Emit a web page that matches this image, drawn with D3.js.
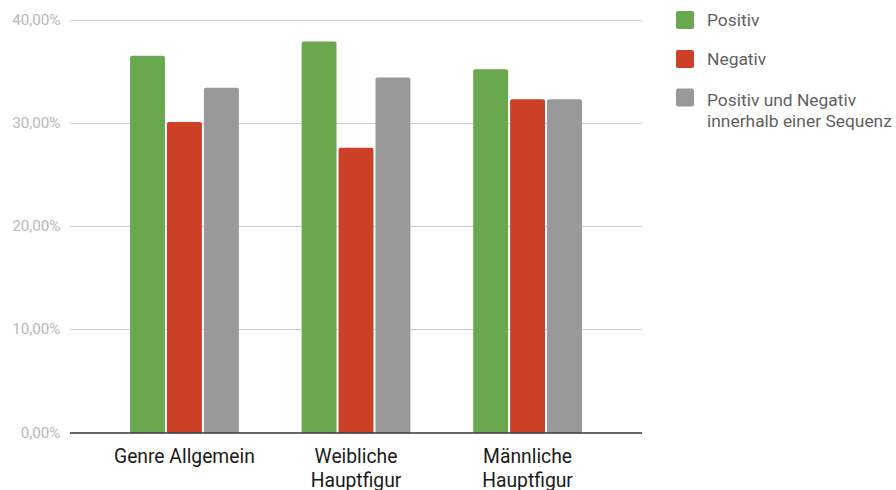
<!DOCTYPE html>
<html><head><meta charset="utf-8">
<script src="https://cdn.jsdelivr.net/npm/d3@7"></script>
<style>body{margin:0;background:#fff}svg{display:block;font-family:Roboto,"Noto Sans",sans-serif}</style>
</head><body><svg id="c" width="896" height="490"></svg>
<script>
const categories = [["Genre Allgemein"], ["Weibliche", "Hauptfigur"], ["Männliche", "Hauptfigur"]];
const seriesNames = [["Positiv"], ["Negativ"], ["Positiv und Negativ", "innerhalb einer Sequenz"]];
const positiv = [36.5, 37.9, 35.2];
const negativ = [30.1, 27.6, 32.3];
const gemischt = [33.4, 34.4, 32.3];
const yTicks = [0, 10, 20, 30, 40];
const colors = ["#6aa84f", "#cc4125", "#999999"];

const svg = d3.select("#c");
const values = [positiv, negativ, gemischt];
const catKeys = categories.map(c => c.join(" "));
const x0 = d3.scaleBand().domain(catKeys).range([70, 642]).paddingInner(0.366).paddingOuter(0.35);
const x1 = d3.scaleBand().domain([0,1,2]).range([0, x0.bandwidth()]).paddingInner(0.055);
const y = d3.scaleLinear().domain([0, 40]).range([432.7, 19.7]);

// gridlines
svg.append("g").selectAll("line").data(yTicks.filter(t => t > 0)).join("line")
  .attr("x1", 70).attr("x2", 642)
  .attr("y1", d => Math.round(y(d)) + 0.5).attr("y2", d => Math.round(y(d)) + 0.5)
  .attr("stroke", "#cccccc").attr("stroke-width", 1);

// y labels
svg.append("g").selectAll("text").data(yTicks).join("text")
  .attr("x", 60.5).attr("y", d => y(d) + 5)
  .attr("text-anchor", "end").attr("font-size", 15.2).attr("fill", "#b7b7b7")
  .text(d => d3.format(".2f")(d).replace(".", ",") + "%");

// bars
function topRounded(x, yTop, w, yBot, r) {
  r = Math.min(r, w/2, yBot - yTop);
  return `M${x},${yBot}V${yTop + r}Q${x},${yTop} ${x + r},${yTop}H${x + w - r}Q${x + w},${yTop} ${x + w},${yTop + r}V${yBot}Z`;
}
const bars = [];
catKeys.forEach((k, ci) => values.forEach((arr, si) => bars.push({k, si, v: arr[ci]})));
svg.append("g").selectAll("path").data(bars).join("path")
  .attr("d", d => topRounded(x0(d.k) + x1(d.si), y(d.v), x1.bandwidth(), y(0), 2))
  .attr("fill", d => colors[d.si]);

// axis line
svg.append("line").attr("x1", 70).attr("x2", 642).attr("y1", 433).attr("y2", 433)
  .attr("stroke", "#333").attr("stroke-width", 1.3);

// x labels
const xl = svg.append("g").selectAll("text").data(categories).join("text")
  .attr("text-anchor", "middle").attr("font-size", 19.3).attr("fill", "#1a1a1a")
  .attr("x", (d, i) => x0(catKeys[i]) + x0.bandwidth()/2);
xl.selectAll("tspan").data(d => d).join("tspan")
  .attr("x", function(){ return this.parentNode.getAttribute("x"); })
  .attr("y", (d, i) => 462.5 + i * 24).text(d => d);

// legend
const legY = [20, 59, 97.5];
const lg = svg.append("g").selectAll("g").data(seriesNames).join("g");
lg.append("rect").attr("x", 676).attr("y", (d, i) => legY[i] - 9).attr("width", 18).attr("height", 18)
  .attr("rx", 2).attr("fill", (d, i) => colors[i]);
const lt = lg.append("text").attr("font-size", 17.4).attr("fill", "#5f5f5f");
lt.selectAll("tspan").data((d, i) => d.map((s, j) => ({s, i, j}))).join("tspan")
  .attr("x", 707).attr("y", d => d.j === 0 ? (d.i === 2 ? 106 : legY[d.i] + 6) : 127)
  .text(d => d.s);
</script></body></html>
